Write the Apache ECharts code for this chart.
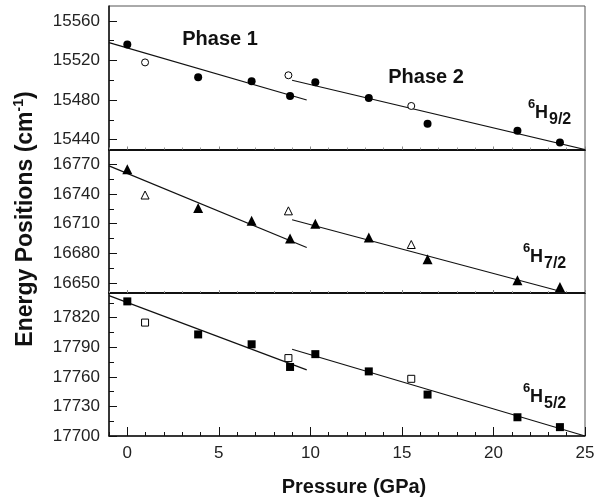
<!DOCTYPE html>
<html>
<head>
<meta charset="utf-8">
<script src="https://cdn.jsdelivr.net/npm/echarts@6/dist/echarts.min.js"></script>
<style>
  html, body { margin: 0; padding: 0; background: #fff; }
  #chart { width: 603px; height: 499px; }
</style>
</head>
<body>
<div id="chart"></div>
<script>
// Pressure points (GPa) shared by the three levels
const pressureFilled = [0, 3.87, 6.79, 8.89, 10.27, 13.19, 16.40, 21.31, 23.63];
const pressureOpen = [0.97, 8.8, 15.51];

// 6H9/2 energies (cm-1)
const h92Filled = [15536, 15503, 15499, 15484, 15498, 15482, 15456, 15449, 15437];
const h92Open = [15518, 15505, 15474];
// 6H7/2 energies (cm-1)
const h72Filled = [16765, 16726, 16713, 16695, 16710, 16696, 16674, 16653, 16646];
const h72Open = [16739, 16723, 16689];
// 6H5/2 energies (cm-1)
const h52Filled = [17836.5, 17803, 17793, 17770, 17783, 17765.5, 17742, 17719, 17709];
const h52Open = [17815, 17779, 17758];

// Linear fits: pressure end points and energies at those end points
const phase1Pressure = [-1, 9.8];
const h92Phase1 = [15538, 15480];
const h72Phase1 = [16768.4, 16686];
const h52Phase1 = [17842.4, 17767];
const h92Phase2Pressure = [9, 25];
const h92Phase2 = [15500, 15430];
const h72Phase2Pressure = [9, 24.0];
const h72Phase2 = [16714, 16640];
const h52Phase2Pressure = [9, 25];
const h52Phase2 = [17788, 17700];

// Axis ticks
const xMajor = [0, 5, 10, 15, 20, 25];
const xMinor = [-1, 1, 2, 3, 4, 6, 7, 8, 9, 11, 12, 13, 14, 16, 17, 18, 19, 21, 22, 23, 24];
const yRanges = [[15430, 15575], [16640, 16785], [17700, 17845]];
const yMajor = [
  [15440, 15480, 15520, 15560],
  [16650, 16680, 16710, 16740, 16770],
  [17700, 17730, 17760, 17790, 17820]
];
const yMinor = [
  [15460, 15500, 15540],
  [16665, 16695, 16725, 16755],
  [17715, 17745, 17775, 17805, 17835]
];

const FONT = 'Liberation Sans, Arial, Helvetica, sans-serif';
const chart = echarts.init(document.getElementById('chart'), null, { renderer: 'canvas' });

const gridTops = [6, 149.5, 293];
const gridHeights = [143.5, 143.5, 143];
const grids = gridTops.map((t, i) => ({
  left: 109, right: 18, top: t, height: gridHeights[i],
  show: true, borderColor: '#555', borderWidth: 1
}));

const plain = v => String(v);

const xAxes = [];
const yAxes = [];
for (let i = 0; i < 3; i++) {
  const isBottom = i === 2;
  xAxes.push({
    type: 'value', gridIndex: i, min: -1, max: 25, position: 'bottom',
    axisLine: { show: true, onZero: false, lineStyle: { color: '#111', width: isBottom ? 1.5 : 2 } },
    axisTick: { show: true, inside: true, length: isBottom ? 9 : 3, customValues: xMajor, lineStyle: { color: isBottom ? '#111' : '#888', width: 1 } },
    axisLabel: { show: isBottom, customValues: xMajor, formatter: plain, margin: 9, fontSize: 17, color: '#222', fontFamily: FONT },
    splitLine: { show: false }
  });
  xAxes.push({
    type: 'value', gridIndex: i, min: -1, max: 25, position: 'bottom',
    axisLine: { show: false, onZero: false },
    axisTick: { show: true, inside: true, length: isBottom ? 4 : 2, customValues: xMinor, lineStyle: { color: isBottom ? '#111' : '#999', width: 1 } },
    axisLabel: { show: false },
    splitLine: { show: false }
  });
  yAxes.push({
    type: 'value', gridIndex: i, min: yRanges[i][0], max: yRanges[i][1], position: 'left',
    axisLine: { show: true, onZero: false, lineStyle: { color: '#111', width: 1.5 } },
    axisTick: { show: true, inside: true, length: 8, customValues: yMajor[i], lineStyle: { color: '#111', width: 1 } },
    axisLabel: { show: true, customValues: yMajor[i], formatter: plain, margin: 9, fontSize: 17, color: '#222', fontFamily: FONT },
    splitLine: { show: false }
  });
  yAxes.push({
    type: 'value', gridIndex: i, min: yRanges[i][0], max: yRanges[i][1], position: 'left',
    axisLine: { show: false, onZero: false },
    axisTick: { show: true, inside: true, length: 5, customValues: yMinor[i], lineStyle: { color: '#111', width: 1 } },
    axisLabel: { show: false },
    splitLine: { show: false }
  });
}

const pairs = (xs, ys) => xs.map((x, k) => [x, ys[k]]);

function panelSeries(i, filled, open, p1, p2x, p2, symbol, sizeFilled, sizeOpen) {
  const base = { xAxisIndex: 2 * i, yAxisIndex: 2 * i, animation: false };
  return [
    Object.assign({}, base, {
      type: 'line', data: pairs(phase1Pressure, p1), symbol: 'none', silent: true, z: 1,
      lineStyle: { color: '#111', width: 1.2 }
    }),
    Object.assign({}, base, {
      type: 'line', data: pairs(p2x, p2), symbol: 'none', silent: true, z: 1,
      lineStyle: { color: '#111', width: 1.2 }
    }),
    Object.assign({}, base, {
      type: 'scatter', data: pairs(pressureFilled, filled), symbol: symbol, symbolSize: sizeFilled, z: 3,
      itemStyle: { color: '#000', opacity: 1 }
    }),
    Object.assign({}, base, {
      type: 'scatter', data: pairs(pressureOpen, open), symbol: symbol, symbolSize: sizeOpen, z: 3,
      itemStyle: { color: '#fff', borderColor: '#000', borderWidth: 1, opacity: 1 }
    })
  ];
}

const series = [].concat(
  panelSeries(0, h92Filled, h92Open, h92Phase1, h92Phase2Pressure, h92Phase2, 'circle', 8, 7),
  panelSeries(1, h72Filled, h72Open, h72Phase1, h72Phase2Pressure, h72Phase2, 'triangle', 10, 8),
  panelSeries(2, h52Filled, h52Open, h52Phase1, h52Phase2Pressure, h52Phase2, 'rect', 8, 7)
);

function txt(text, x, y, size, opts) {
  return Object.assign({
    type: 'text', x: x, y: y, z: 10,
    style: Object.assign({
      text: text, font: 'bold ' + size + 'px ' + FONT, fill: '#111',
      align: 'left', verticalAlign: 'middle'
    }, (opts && opts.style) || {})
  }, (opts && opts.el) || {});
}

// Term symbol label: superscript multiplicity, letter, subscript J
function termLabel(sub, x, y) {
  return [
    txt('6', x, y - 9, 13),
    txt('H', x + 7, y, 18),
    txt(sub, x + 21, y + 7, 16)
  ];
}

const graphics = [
  txt('Phase 1', 220, 39, 20, { style: { align: 'center' } }),
  txt('Phase 2', 426, 77, 20, { style: { align: 'center' } }),
  txt('Pressure (GPa)', 354, 487, 20, { style: { align: 'center' } }),
  {
    type: 'text', x: 26, y: 219, rotation: Math.PI / 2, z: 10,
    style: {
      text: '{a|Energy Positions (cm}{s|-1}{a|)}',
      align: 'center', verticalAlign: 'middle', fill: '#111',
      rich: {
        a: { fontSize: 23, fontWeight: 'bold', fontFamily: FONT, fill: '#111', lineHeight: 27 },
        s: { fontSize: 14, fontWeight: 'bold', fontFamily: FONT, fill: '#111', verticalAlign: 'top', lineHeight: 17 }
      }
    }
  }
].concat(
  termLabel('9/2', 528, 113),
  termLabel('7/2', 523, 257),
  termLabel('5/2', 523, 397)
);

chart.setOption({
  animation: false,
  backgroundColor: '#fff',
  grid: grids,
  xAxis: xAxes,
  yAxis: yAxes,
  series: series,
  graphic: graphics
});
</script>
</body>
</html>
